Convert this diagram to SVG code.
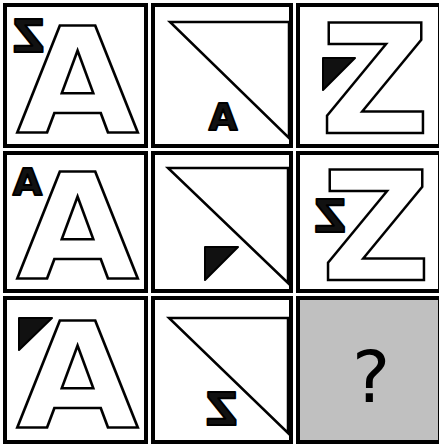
<svg xmlns="http://www.w3.org/2000/svg" width="439" height="444" viewBox="0 0 439 444">
<style>
.cell{fill:#fff;stroke:#000;stroke-width:4}
.q{fill:#c0c0c0;stroke:#000;stroke-width:4}
.big{font-family:"DejaVu Sans",sans-serif;font-weight:bold;fill:#fff;stroke:#000;stroke-width:2.5;text-anchor:middle}
.sm{font-family:"DejaVu Sans",sans-serif;font-weight:bold;fill:#111;stroke:#000;stroke-width:2;stroke-linejoin:round;text-anchor:middle}
.tri{fill:#111;stroke:#000;stroke-width:2;stroke-linejoin:round}
.diag{fill:#fff;stroke:#000;stroke-width:2.5}
.qt{font-family:"DejaVu Sans",sans-serif;font-size:72px;fill:#000;text-anchor:middle}
</style>
<rect width="439" height="444" fill="#fff"/>
<g id="cell-1-1">
<rect class="cell" x="5" y="5" width="141" height="141"/>
<text class="big" font-size="146" transform="translate(77.5,132) scale(1.08,1)">A</text>
<text class="sm" font-size="44" transform="translate(28.5,52) scale(-1,1)">Z</text>
</g>
<g id="cell-1-2">
<rect class="cell" x="153" y="5" width="138" height="141"/>
<polygon class="diag" points="170,22 289,22 289,138"/>
<text class="sm" font-size="37" x="223" y="130">A</text>
</g>
<g id="cell-1-3">
<rect class="cell" x="298" y="5" width="142" height="141"/>
<text class="big" font-size="151" x="375" y="133">Z</text>
<polygon class="tri" points="323,58 355,58 323,90"/>
</g>
<g id="cell-2-1">
<rect class="cell" x="5" y="153" width="141" height="138"/>
<text class="big" font-size="146" transform="translate(77.5,278) scale(1.08,1)">A</text>
<text class="sm" font-size="38" x="27.5" y="195">A</text>
</g>
<g id="cell-2-2">
<rect class="cell" x="153" y="153" width="138" height="138"/>
<polygon class="diag" points="168,168 288,168 288,283"/>
<polygon class="tri" points="205,247 238,247 205,280"/>
</g>
<g id="cell-2-3">
<rect class="cell" x="298" y="153" width="142" height="138"/>
<text class="big" font-size="151" x="376" y="280">Z</text>
<text class="sm" font-size="44" transform="translate(330,232) scale(-1,1)">Z</text>
</g>
<g id="cell-3-1">
<rect class="cell" x="5" y="298" width="141" height="144"/>
<text class="big" font-size="146" transform="translate(77.5,427) scale(1.08,1)">A</text>
<polygon class="tri" points="19,318 52,318 19,350"/>
</g>
<g id="cell-3-2">
<rect class="cell" x="153" y="298" width="138" height="144"/>
<polygon class="diag" points="169,318 288,318 288,433"/>
<text class="sm" font-size="44" transform="translate(221.5,425) scale(-1,1)">Z</text>
</g>
<g id="cell-3-3">
<rect class="q" x="298" y="298" width="142" height="144"/>
<text class="qt" x="371" y="402">?</text>
</g>
</svg>
